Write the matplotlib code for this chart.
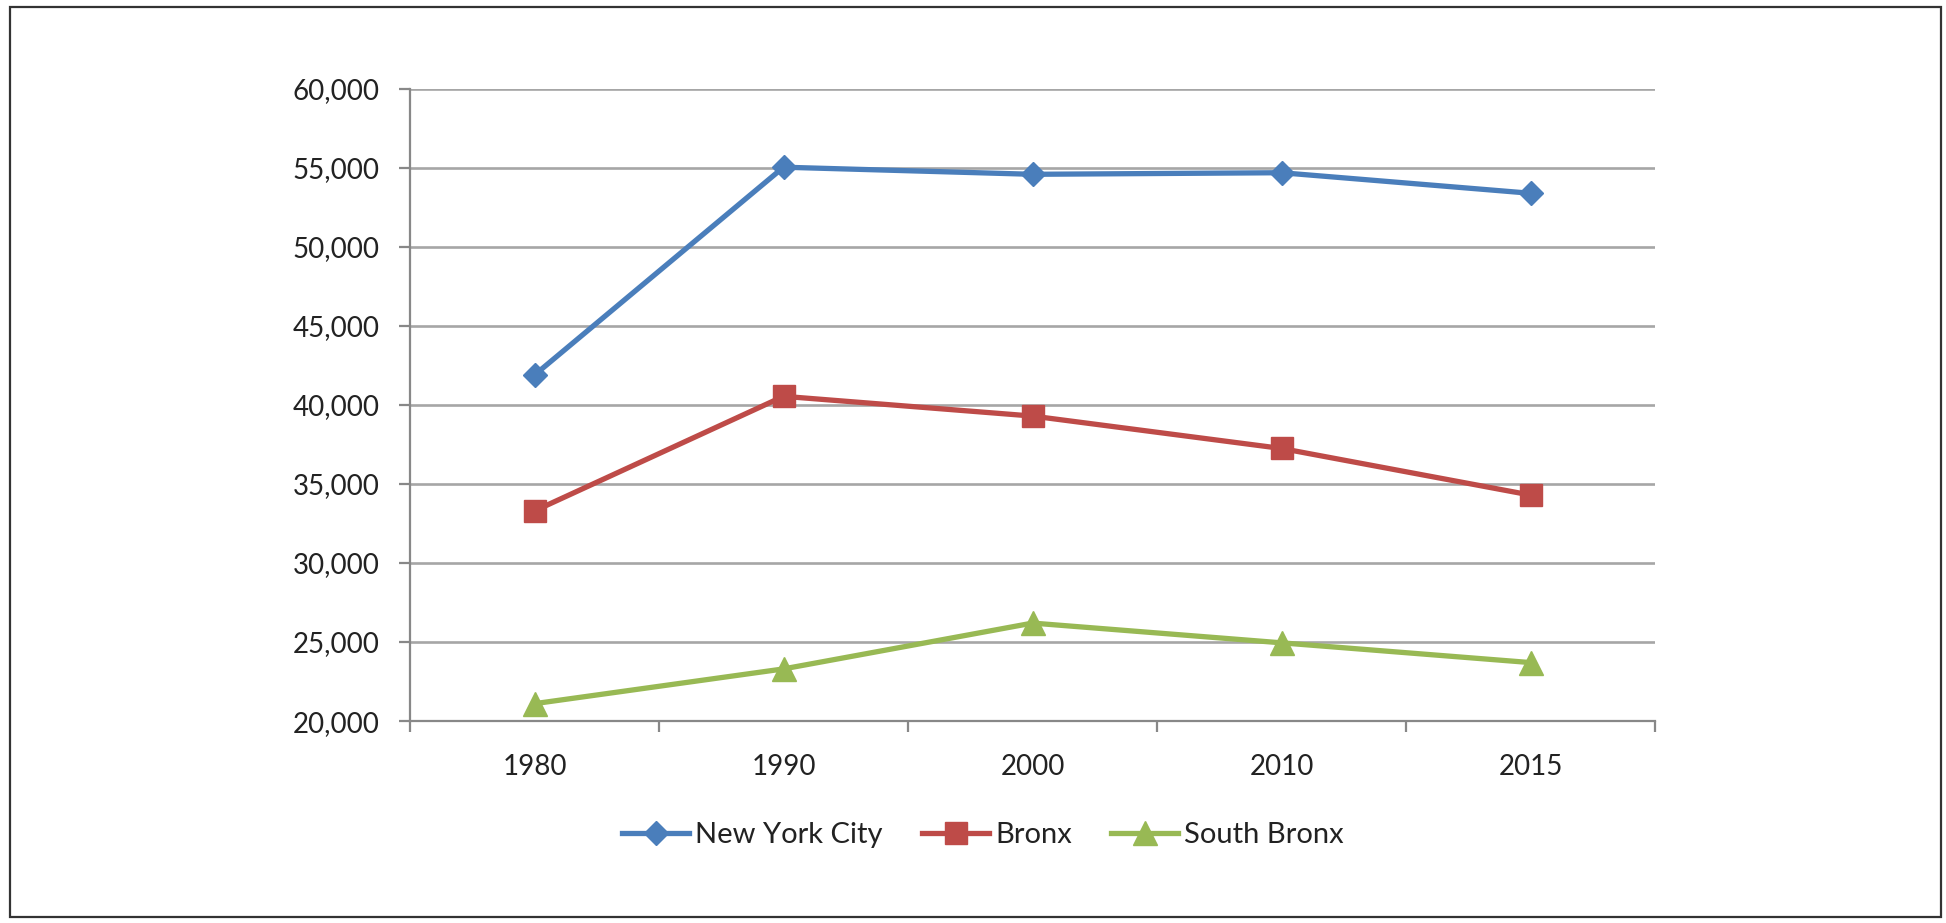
import matplotlib
matplotlib.use("Agg")
import matplotlib.pyplot as plt
from matplotlib.ticker import FuncFormatter, FixedLocator
from matplotlib.patches import Rectangle

years = ["1980", "1990", "2000", "2010", "2015"]
nyc = [41900, 55050, 54600, 54700, 53400]
bronx = [33300, 40550, 39300, 37250, 34300]
south_bronx = [21100, 23300, 26200, 24950, 23700]

plt.rcParams['font.family'] = ['Lato', 'DejaVu Sans']

fig = plt.figure(figsize=(19.46, 9.23), dpi=100)
ax = fig.add_axes([0.2107, 0.2188, 0.6398, 0.6848])

# cadre autour du graphique
fig.patches.append(Rectangle((0.005, 0.0065), 0.9925, 0.986, transform=fig.transFigure,
                             fill=False, edgecolor='#333333', linewidth=1.6))

x = list(range(len(years)))
ax.plot(x, nyc, color='#4A7EBB', lw=3.8, marker='D', markersize=12.5, label='New York City', zorder=5)
ax.plot(x, bronx, color='#BE4B48', lw=3.8, marker='s', markersize=16, label='Bronx', zorder=5)
ax.plot(x, south_bronx, color='#98B954', lw=3.8, marker='^', markersize=17.5, label='South Bronx', zorder=5)

ax.set_xlim(-0.5, len(years) - 0.5)
ax.set_ylim(20000, 60000)
ax.set_yticks(range(20000, 60001, 5000))
ax.yaxis.set_major_formatter(FuncFormatter(lambda v, p: f"{int(v):,}"))
ax.grid(axis='y', color='#A6A6A6', lw=1.9)
ax.set_axisbelow(True)

# repères entre les catégories, étiquettes au centre
ax.set_xticks(x)
ax.set_xticklabels(years)
ax.xaxis.set_minor_locator(FixedLocator([i - 0.5 for i in range(len(years) + 1)]))
ax.tick_params(axis='x', which='major', length=0, pad=24, labelsize=20, labelcolor='#222222')
ax.tick_params(axis='x', which='minor', length=8, width=1.6, color='#888888')
ax.tick_params(axis='y', length=8, width=1.6, color='#888888', pad=14, labelsize=20, labelcolor='#222222')

for side in ['top', 'right']:
    ax.spines[side].set_visible(False)
for side in ['left', 'bottom']:
    ax.spines[side].set_color('#888888')
    ax.spines[side].set_linewidth(1.6)

leg = fig.legend(loc='center', bbox_to_anchor=(983 / 1946, 1 - 835 / 923), ncol=3, frameon=False,
                 fontsize=21, handlelength=2.3, handletextpad=0.2, columnspacing=1.35)
for t in leg.get_texts():
    t.set_color('#222222')

fig.savefig("out.png", dpi=100)
